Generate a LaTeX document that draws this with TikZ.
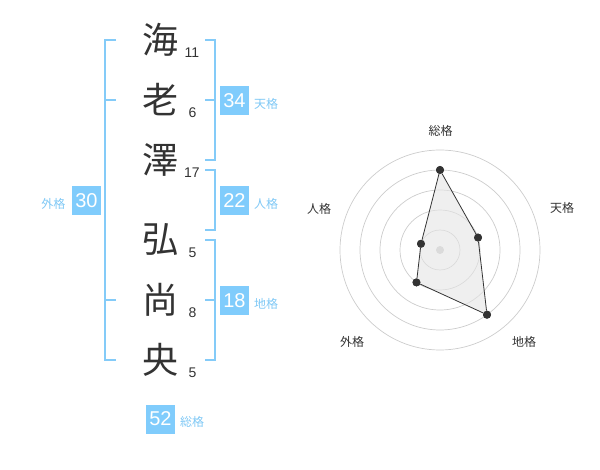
\documentclass[tikz,border=0pt]{standalone}
\usepackage{fontspec}
\setmainfont{Liberation Sans}
\newfontfamily\cjk{Noto Sans CJK JP}
\definecolor{boxblue}{HTML}{80CCFC}
\definecolor{lblblue}{HTML}{7FC8F5}
\definecolor{brkblue}{HTML}{84CBF8}
\definecolor{dark}{HTML}{333333}
\definecolor{ring}{HTML}{CCCCCC}
\tikzset{
  kanji/.style={inner sep=0pt, text=dark, font=\cjk\fontsize{36}{36}\selectfont},
  strokes/.style={inner sep=0pt, text=dark, font=\fontsize{14}{14}\selectfont},
  numbox/.style={fill=boxblue, text=white, minimum width=29pt, minimum height=29pt, inner sep=0pt, font=\fontsize{20}{20}\selectfont},
  kaku/.style={inner sep=0pt, text=lblblue, font=\cjk\fontsize{12}{12}\selectfont},
  bracket/.style={draw=brkblue, line width=2pt},
  rlabel/.style={inner sep=0pt, text=dark, font=\cjk\fontsize{12}{12}\selectfont},
  ringline/.style={draw=ring, line width=0.7pt},
  vdot/.style={circle, fill=dark, inner sep=0pt, minimum size=8pt},
}
\begin{document}
\begin{tikzpicture}[x=1pt,y=-1pt]
\useasboundingbox (0,0) rectangle (600,470);
% name characters
\node[kanji] (c1) at (160,40) {海};
\node[kanji] (c2) at (160,100) {老};
\node[kanji] (c3) at (160,160) {澤};
\node[kanji] (c4) at (160,240) {弘};
\node[kanji] (c5) at (160,300) {尚};
\node[kanji] (c6) at (160,360) {央};
% stroke counts
\node[strokes] (s1) at (192,53) {11};
\node[strokes] (s2) at (192.5,113) {6};
\node[strokes] (s3) at (192,173) {17};
\node[strokes] (s4) at (192.5,252.5) {5};
\node[strokes] (s5) at (192.5,313) {8};
\node[strokes] (s6) at (192.5,373) {5};
% brackets
\draw[bracket] (116,40) -- (105,40) -- (105,360) -- (116,360);
\draw[bracket] (105,100) -- (116,100);
\draw[bracket] (105,300) -- (116,300);
\draw[bracket] (205,40) -- (215,40) -- (215,160) -- (205,160);
\draw[bracket] (205,100) -- (215,100);
\draw[bracket] (205,170) -- (215,170) -- (215,230) -- (205,230);
\draw[bracket] (205,240) -- (215,240) -- (215,360) -- (205,360);
\draw[bracket] (205,300) -- (215,300);
% boxes
\node[numbox] (ten) at (234.5,100.5) {34};
\node[kaku] (tenl) at (266,104) {天格};
\node[numbox] (jin) at (234.5,200.5) {22};
\node[kaku] (jinl) at (266,204) {人格};
\node[numbox] (chi) at (234.5,300.5) {18};
\node[kaku] (chil) at (266,304) {地格};
\node[numbox] (gai) at (86.5,200.5) {30};
\node[kaku] (gail) at (53.5,203.5) {外格};
\node[numbox] (sou) at (160.5,419) {52};
\node[kaku] (soul) at (192,422) {総格};
% radar chart
\coordinate (rc) at (440,250);
\foreach \r in {20,40,60,80,100} \draw[ringline] (rc) circle[radius=\r];
\fill[ring] (rc) circle[radius=4];
\node[vdot] (p1) at (440,170) {};
\node[vdot] (p2) at (478,237.6) {};
\node[vdot] (p3) at (487,314.7) {};
\node[vdot] (p4) at (416.5,282.4) {};
\node[vdot] (p5) at (421,243.8) {};
\fill[black!10, opacity=0.6] (p1.center) -- (p2.center) -- (p3.center) -- (p4.center) -- (p5.center) -- cycle;
\draw[dark, line width=0.8pt] (p1) -- (p2) -- (p3) -- (p4) -- (p5) -- (p1);
\node[vdot] at (p1) {};
\node[vdot] at (p2) {};
\node[vdot] at (p3) {};
\node[vdot] at (p4) {};
\node[vdot] at (p5) {};
\node[rlabel] (l1) at (440.7,130.7) {総格};
\node[rlabel] (l2) at (562,208) {天格};
\node[rlabel] (l3) at (319,209) {人格};
\node[rlabel] (l4) at (352,342) {外格};
\node[rlabel] (l5) at (524,342) {地格};
\end{tikzpicture}
\end{document}
